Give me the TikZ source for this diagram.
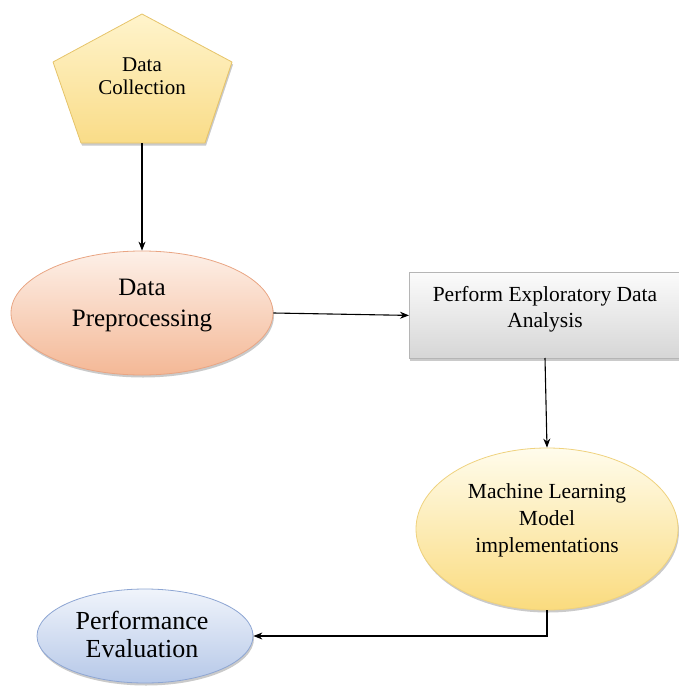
\documentclass[tikz,border=0pt]{standalone}
\usepackage{fontspec}
\setmainfont{Liberation Serif}
\usetikzlibrary{shapes.geometric,arrows.meta,shadows}

\definecolor{pentEdge}{HTML}{E6C46A}
\definecolor{pentTop}{HTML}{FFF4CC}
\definecolor{pentBot}{HTML}{F9DC88}
\definecolor{salEdge}{HTML}{E9A583}
\definecolor{salTop}{HTML}{FDF0E8}
\definecolor{salBot}{HTML}{F4B896}
\definecolor{boxEdge}{HTML}{B5B5B5}
\definecolor{boxTop}{HTML}{FBFBFB}
\definecolor{boxBot}{HTML}{D6D6D6}
\definecolor{ylwEdge}{HTML}{EFD27E}
\definecolor{ylwTop}{HTML}{FFFCEC}
\definecolor{ylwBot}{HTML}{FADB7E}
\definecolor{bluEdge}{HTML}{8EA6D3}
\definecolor{bluTop}{HTML}{F0F4FB}
\definecolor{bluBot}{HTML}{B6C8E8}

\tikzset{
  flow/.style={line width=1.1pt, -{Stealth[length=9pt,width=7pt]}},
  softshadow/.style={drop shadow={shadow xshift=1pt, shadow yshift=-2.5pt, opacity=0.35, fill=black!60}},
  oval/.style={ellipse, draw, line width=0.8pt, inner sep=0pt, softshadow},
  label text/.style={align=center, text=black, inner sep=0pt}
}

\begin{document}
\begin{tikzpicture}[x=1pt, y=-1pt]
  \useasboundingbox (0,0) rectangle (678,690);

  % Data Collection pentagon
  \coordinate (p1) at (142,14);
  \coordinate (p2) at (232,62);
  \coordinate (p3) at (205,143);
  \coordinate (p4) at (81,143);
  \coordinate (p5) at (53,62);
  \fill[black!60, opacity=0.35] ([shift={(1,2.5)}]p1) -- ([shift={(1,2.5)}]p2) -- ([shift={(1,2.5)}]p3) -- ([shift={(1,2.5)}]p4) -- ([shift={(1,2.5)}]p5) -- cycle;
  \shade[top color=pentTop, bottom color=pentBot] (p1) -- (p2) -- (p3) -- (p4) -- (p5) -- cycle;
  \draw[pentEdge, line width=0.8pt, line join=round] (p1) -- (p2) -- (p3) -- (p4) -- (p5) -- cycle;
  \node[label text, font=\fontsize{21}{23}\selectfont] (dc) at (142,76) {Data\\Collection};
  \coordinate (dcbot) at (142,143);

  % Data Preprocessing
  \node[oval, draw=salEdge, top color=salTop, bottom color=salBot,
        minimum width=262pt, minimum height=124pt] (dp) at (142,313) {};
  \node[label text, font=\fontsize{25}{31}\selectfont] (dptext) at (142,306) {Data\\Preprocessing};

  % Exploratory data analysis box
  \node[draw=boxEdge, line width=0.8pt, top color=boxTop, bottom color=boxBot, softshadow,
        minimum width=274pt, minimum height=86pt, inner sep=0pt, anchor=north west] (eda) at (409,272) {};
  \node[label text, font=\fontsize{21.5}{26}\selectfont] (edatext) at (545,309) {Perform Exploratory Data\\Analysis};

  % Machine learning models
  \node[oval, draw=ylwEdge, top color=ylwTop, bottom color=ylwBot,
        minimum width=262pt, minimum height=162pt] (ml) at (547,529) {};
  \node[label text, font=\fontsize{21.5}{27}\selectfont] (mltext) at (547,520) {Machine Learning\\Model\\implementations};

  % Performance evaluation
  \node[oval, draw=bluEdge, top color=bluTop, bottom color=bluBot,
        minimum width=216pt, minimum height=94pt] (pe) at (145,636) {};
  \node[label text, font=\fontsize{26}{28}\selectfont] (petext) at (142,634) {Performance\\Evaluation};

  % Connectors
  \coordinate (edabot) at (545,358);
  \coordinate (bend) at (547,636);
  \draw[flow] (dcbot) -- (dp.north);
  \draw[flow] (dp.east) -- (eda.west);
  \draw[flow] (edabot) -- (ml.north);
  \draw[flow] (ml.south) -- (bend) -- (pe.east);
\end{tikzpicture}
\end{document}
